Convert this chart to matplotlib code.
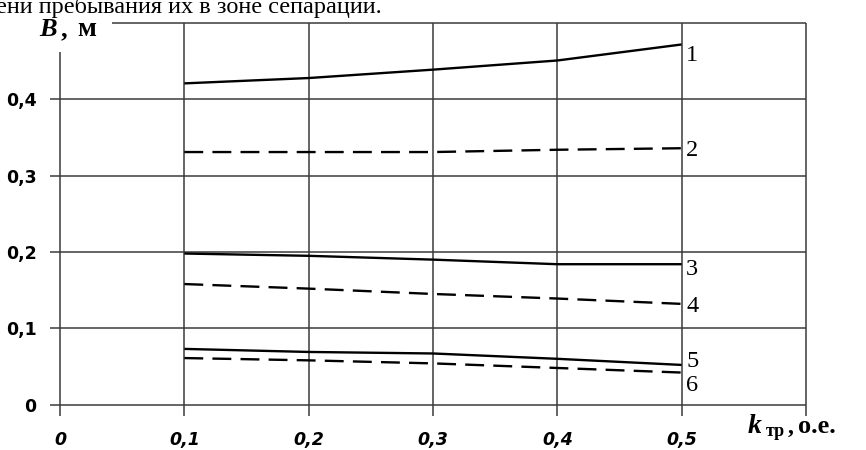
import matplotlib
matplotlib.use("Agg")
import matplotlib.pyplot as plt

# ---- data ----
k_tr = [0.1, 0.2, 0.3, 0.4, 0.5]
b1 = [0.421, 0.428, 0.439, 0.451, 0.472]
b2 = [0.331, 0.331, 0.331, 0.334, 0.336]
b3 = [0.198, 0.195, 0.190, 0.184, 0.184]
b4 = [0.158, 0.152, 0.145, 0.139, 0.132]
b5 = [0.073, 0.069, 0.067, 0.060, 0.052]
b6 = [0.061, 0.058, 0.054, 0.048, 0.042]
series = [b1, b2, b3, b4, b5, b6]
curve_labels = ["1", "2", "3", "4", "5", "6"]
curve_dashed = [False, True, False, True, False, True]

x_ticks = [0, 0.1, 0.2, 0.3, 0.4, 0.5, 0.6]
x_tick_labels = ["0", "0,1", "0,2", "0,3", "0,4", "0,5", ""]
y_ticks = [0, 0.1, 0.2, 0.3, 0.4]
y_tick_labels = ["0", "0,1", "0,2", "0,3", "0,4"]

W, H = 866, 450
fig = plt.figure(figsize=(W / 100, H / 100), dpi=100)
fig.patch.set_facecolor("white")

ax = fig.add_axes([60 / W, 45.4 / H, 746 / W, 381.5 / H])
ax.set_xlim(0, 0.6)
ax.set_ylim(0, 0.5)
for s in ax.spines.values():
    s.set_visible(False)

gc = "#3a3a3a"
glw = 1.1
# grid / frame
ax.vlines([0.1, 0.2, 0.3, 0.4, 0.5, 0.6], 0, 0.5, colors=gc, lw=glw, clip_on=False, zorder=1)
ax.vlines([0], 0, 0.462, colors=gc, lw=glw, clip_on=False, zorder=1)
ax.hlines([0, 0.1, 0.2, 0.3, 0.4], 0, 0.6, colors=gc, lw=glw, clip_on=False, zorder=1)
ax.hlines([0.5], 0.042, 0.6, colors=gc, lw=glw, clip_on=False, zorder=1)

ax.set_xticks(x_ticks)
ax.set_xticklabels(x_tick_labels)
ax.set_yticks(y_ticks)
ax.set_yticklabels(y_tick_labels)
ax.tick_params(axis="x", direction="out", length=8, width=glw, color=gc, pad=11)
ax.tick_params(axis="y", direction="out", length=7, width=glw, color=gc, pad=10)
for t in ax.get_xticklabels():
    t.set_fontfamily("DejaVu Sans")
    t.set_fontweight("bold")
    t.set_fontstyle("oblique")
    t.set_fontsize(12.5)
for t in ax.get_yticklabels():
    t.set_fontfamily("DejaVu Sans")
    t.set_fontweight("bold")
    t.set_fontsize(12.5)

# data lines
for vals, dashed in zip(series, curve_dashed):
    ln, = ax.plot(k_tr, vals, color="black", lw=1.7, clip_on=False, zorder=3,
                  solid_capstyle="butt", dash_capstyle="butt")
    if dashed:
        ln.set_dashes((8.0, 3.9))

# curve numbers
label_y = [0.458, 0.333, 0.177, 0.128, 0.057, 0.025]
for lab, yv in zip(curve_labels, label_y):
    ax.text(0.5035, yv, lab, fontfamily="Liberation Serif", fontsize=17.5,
            ha="left", va="center", clip_on=False)

# axis titles
serif = "Liberation Serif"
fig.text(39 / W, 1 - 36 / H, "B", fontfamily=serif, fontsize=19,
         fontweight="bold", fontstyle="italic", ha="left", va="baseline")
fig.text(61 / W, 1 - 36 / H, ",", fontfamily=serif, fontsize=19,
         fontweight="bold", ha="left", va="baseline")
fig.text(77 / W, 1 - 36 / H, "м", fontfamily=serif, fontsize=20,
         fontweight="bold", ha="left", va="baseline")

fig.text(748 / W, 1 - 433 / H, "k", fontfamily=serif, fontsize=20,
         fontweight="bold", fontstyle="italic", ha="left", va="baseline")
fig.text(766 / W, 1 - 436 / H, "тр", fontfamily=serif, fontsize=13,
         fontweight="bold", ha="left", va="baseline")
fig.text(788 / W, 1 - 433 / H, ",", fontfamily=serif, fontsize=17,
         fontweight="bold", ha="left", va="baseline")
fig.text(798 / W, 1 - 433 / H, "о.е.", fontfamily=serif, fontsize=19,
         fontweight="bold", ha="left", va="baseline")

# clipped line of document text above the chart (cut off at the top, as in the source page)
fig.text(-4 / W, 1 - 13 / H, "ени пребывания их в зоне сепарации.",
         fontfamily=serif, fontsize=17.5, ha="left", va="baseline")

fig.savefig("out.png", dpi=100, facecolor="white")
